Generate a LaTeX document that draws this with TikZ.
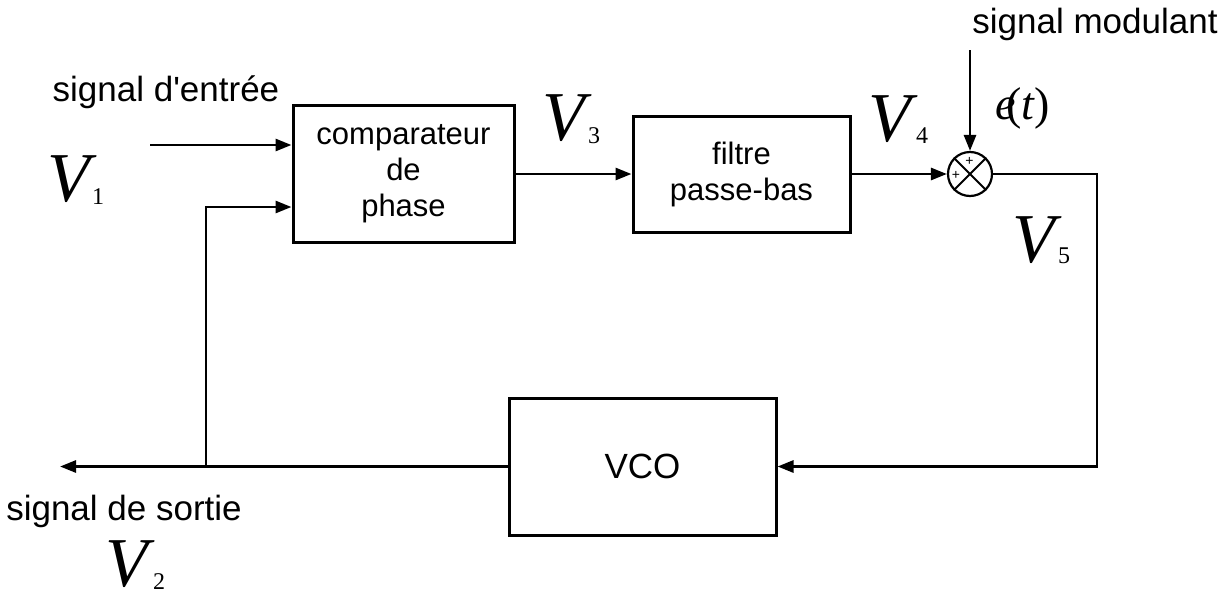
\documentclass[tikz,border=0pt]{standalone}
\usepackage{fontspec}
\setmainfont{Liberation Sans}
\newfontfamily\nolig{Liberation Sans}[Ligatures=TeXOff]
\newfontfamily\tms{Liberation Serif}
\usetikzlibrary{arrows.meta}
\begin{document}
\begin{tikzpicture}[x=1pt,y=-1pt,
  line width=2.8pt,
  blk/.style={draw,line width=3pt,inner sep=0pt,align=center,font=\fontsize{31}{36}\selectfont},
  lbl/.style={inner sep=0pt,font=\fontsize{35}{40}\selectfont},
  vv/.style={inner sep=0pt,anchor=base west,font=\fontsize{70}{80}\selectfont\tms\itshape},
  sub/.style={inner sep=0pt,anchor=base,font=\fontsize{24}{28}\selectfont\tms},
  arr/.style={-{Triangle[length=16pt,width=12pt]}}]
\useasboundingbox (0,0) rectangle (1228,597);
% blocks
\node[blk,minimum width=221pt,minimum height=137pt] (comp) at (403.5,174) {comparateur\\de\\phase};
\node[blk,minimum width=217pt,minimum height=116pt] (filt) at (741.5,174) {filtre\\passe-bas};
\node[blk,minimum width=267pt,minimum height=137pt,font=\fontsize{35}{40}\selectfont] (vco) at (642.5,466.5) {VCO};
\node[draw,circle,line width=2.2pt,minimum size=44pt,inner sep=0pt] (sum) at (970,174) {};
\draw[line width=2pt] (sum.north east) -- (sum.south west) (sum.north west) -- (sum.south east);
\node[inner sep=0pt,font=\fontsize{14}{14}\selectfont] (p1) at (969.5,161) {+};
\node[inner sep=0pt,font=\fontsize{14}{14}\selectfont] (p2) at (956,175) {+};
% coordinates
\coordinate (in1) at (150,145);
\coordinate (br) at (206,466.5);
\coordinate (out) at (60,466.5);
\coordinate (rt) at (1097,174);
\coordinate (rb) at (1097,466.5);
\coordinate (mod) at (970,50);
% connectors
\draw[arr] (in1) -- (in1 -| comp.west);
\draw[arr] (br) -- (br |- 0,207) -- (comp.west |- 0,207);
\draw[arr] (comp.east) -- (filt.west);
\draw[arr] (filt.east) -- (sum.west);
\draw[arr] (mod) -- (sum.north);
\draw[arr] (sum.east) -- (rt) -- (rb) -- (vco.east);
\draw[arr] (vco.west) -- (out);
% text labels
\node[lbl,anchor=base] (tin) at (166,101) {signal d{\nolig'}entrée};
\node[lbl,anchor=base] (tout) at (124,520) {signal de sortie};
\node[lbl,anchor=base west] (tmod) at (971,33) {signal modulant};
% V labels
\node[vv] (v1) at (46,201) {V};
\node[sub] (s1) at (98,204) {1};
\node[vv] (v2) at (104,586) {V};
\node[sub] (s2) at (159,589) {2};
\node[vv] (v3) at (541,140) {V};
\node[sub] (s3) at (594,143) {3};
\node[vv] (v4) at (867,141) {V};
\node[sub] (s4) at (922,143) {4};
\node[vv] (v5) at (1011,262) {V};
\node[sub] (s5) at (1064,263) {5};
\node[inner sep=0pt,anchor=base west,font=\fontsize{46}{50}\selectfont\tms] (et) at (994,119) {\itshape e\kern-0.2em\upshape(\itshape t\upshape)};
\end{tikzpicture}
\end{document}
